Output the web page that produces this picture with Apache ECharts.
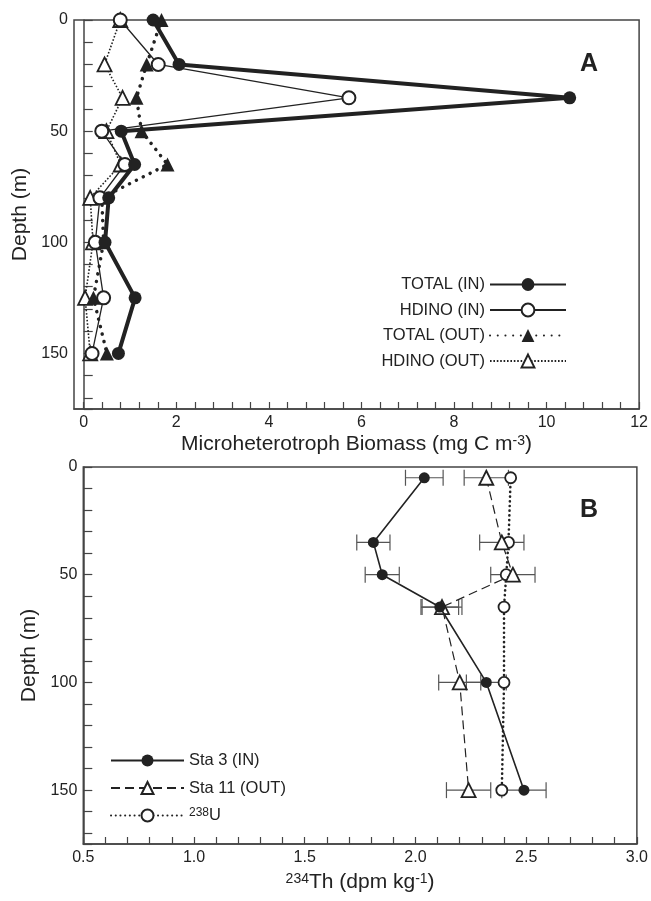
<!DOCTYPE html>
<html><head><meta charset="utf-8">
<script src="https://cdn.jsdelivr.net/npm/echarts@6/dist/echarts.min.js"></script>
<style>html,body{margin:0;padding:0;background:#fff}#c{width:651px;height:901px}</style>
</head><body><div id="c"></div>
<script>
// ---- Panel A data ----
const depthsA = [0, 20, 35, 50, 65, 80, 100, 125, 150];
const totalIn = [1.5, 2.06, 10.5, 0.81, 1.1, 0.54, 0.46, 1.11, 0.75];
const hdinoIn = [0.79, 1.61, 5.73, 0.39, 0.89, 0.35, 0.25, 0.43, 0.18];
const totalOut = [1.68, 1.36, 1.14, 1.25, 1.81, 0.39, 0.43, 0.21, 0.5];
const hdinoOut = [0.79, 0.45, 0.84, 0.49, 0.8, 0.14, 0.2, 0.03, 0.14];
const namesA = ['TOTAL (IN)', 'HDINO (IN)', 'TOTAL (OUT)', 'HDINO (OUT)'];
const xTicksA = [0,0.4,0.8,1.2,1.6,2,2.4,2.8,3.2,3.6,4,4.4,4.8,5.2,5.6,6,6.4,6.8,7.2,7.6,8,8.4,8.8,9.2,9.6,10,10.4,10.8,11.2,11.6,12];
const xLabelsA = [0, 2, 4, 6, 8, 10, 12];

// ---- Panel B data ----
const depthsB = [5, 35, 50, 65, 100, 150];
const sta3 = [2.04, 1.81, 1.85, 2.11, 2.32, 2.49];
const sta3Err = [0.085, 0.075, 0.077, 0.085, 0.09, 0.1];
const sta11 = [2.32, 2.39, 2.44, 2.12, 2.20, 2.24];
const sta11Err = [0.1, 0.1, 0.1, 0.09, 0.095, 0.1];
const u238 = [2.43, 2.42, 2.41, 2.40, 2.40, 2.39];
const namesB = ['Sta 3 (IN)', 'Sta 11 (OUT)', '{sup|238}U'];
const xLabelsB = [0.5, 1.0, 1.5, 2.0, 2.5, 3.0];
const depthLabels = [0, 50, 100, 150];

const FONT = '"Liberation Sans", Arial, Helvetica, sans-serif';
const INK = '#222';
const AXIS = '#444';

function pairs(xs, ys) { return xs.map((v, i) => [v, ys[i]]); }
function errData(xs, es, ys) { return xs.map((v, i) => [v, ys[i], es[i]]); }

function errorBarSeries(name, xs, es) {
  return {
    type: 'custom', name: name, xAxisIndex: 1, yAxisIndex: 1, z: 1, silent: true,
    data: errData(xs, es, depthsB),
    renderItem: function (params, api) {
      const x = api.value(0), y = api.value(1), e = api.value(2);
      const p1 = api.coord([x - e, y]);
      const p2 = api.coord([x + e, y]);
      const h = 8;
      const st = { stroke: '#555', lineWidth: 1.2 };
      return {
        type: 'group', children: [
          { type: 'line', shape: { x1: p1[0], y1: p1[1], x2: p2[0], y2: p2[1] }, style: st },
          { type: 'line', shape: { x1: p1[0], y1: p1[1] - h, x2: p1[0], y2: p1[1] + h }, style: st },
          { type: 'line', shape: { x1: p2[0], y1: p2[1] - h, x2: p2[0], y2: p2[1] + h }, style: st }
        ]
      };
    }
  };
}

const depthAxisCommon = {
  type: 'value', inverse: true, min: 0, max: 175, interval: 10,
  nameLocation: 'middle', name: 'Depth (m)',
  nameTextStyle: { fontFamily: FONT, fontSize: 21, color: INK },
  axisLine: { show: true, lineStyle: { color: AXIS, width: 1.5 } },
  axisTick: { show: true, inside: true, length: 9, lineStyle: { color: AXIS, width: 1.2 } },
  axisLabel: {
    fontFamily: FONT, fontSize: 16, color: INK, margin: 6,
    formatter: function (v) { return depthLabels.indexOf(v) >= 0 ? String(v) : ''; }
  },
  splitLine: { show: false }
};

const option = {
  backgroundColor: '#fff',
  animation: false,
  grid: [
    { left: 74, right: 10, top: 20, height: 389, show: true, borderColor: AXIS, borderWidth: 1.5, containLabel: false },
    { left: 83.3, right: 10, top: 467, height: 377, show: true, borderColor: AXIS, borderWidth: 1.5, containLabel: false }
  ],
  xAxis: [
    {
      gridIndex: 0, type: 'value', min: -0.21, max: 12,
      name: 'Microheterotroph Biomass (mg C m{sup|-3})', nameLocation: 'middle', nameGap: 25,
      nameTextStyle: { fontFamily: FONT, fontSize: 21, color: INK, rich: { sup: { fontFamily: FONT, fontSize: 14, color: INK, verticalAlign: 'top' } } },
      axisLine: { show: true, onZero: false, lineStyle: { color: AXIS, width: 1.5 } },
      axisTick: { show: true, inside: true, length: 7, customValues: xTicksA, lineStyle: { color: AXIS, width: 1.2 } },
      axisLabel: { fontFamily: FONT, fontSize: 16, color: INK, margin: 6, customValues: xLabelsA },
      splitLine: { show: false }
    },
    {
      gridIndex: 1, type: 'value', min: 0.5, max: 3.0, interval: 0.1,
      name: '{sup|234}Th (dpm kg{sup|-1})', nameLocation: 'middle', nameGap: 28,
      nameTextStyle: { fontFamily: FONT, fontSize: 21, color: INK, rich: { sup: { fontFamily: FONT, fontSize: 14, color: INK, verticalAlign: 'top' } } },
      axisLine: { show: true, onZero: false, lineStyle: { color: AXIS, width: 1.5 } },
      axisTick: { show: true, inside: true, length: 7, lineStyle: { color: AXIS, width: 1.2 } },
      axisLabel: {
        fontFamily: FONT, fontSize: 16, color: INK, margin: 6,
        formatter: function (v) {
          for (const t of xLabelsB) { if (Math.abs(v - t) < 1e-6) return t.toFixed(1); }
          return '';
        }
      },
      splitLine: { show: false }
    }
  ],
  yAxis: [
    Object.assign({}, depthAxisCommon, { gridIndex: 0, nameGap: 30 }),
    Object.assign({}, depthAxisCommon, { gridIndex: 1, nameGap: 40 })
  ],
  legend: [
    {
      data: namesA, orient: 'vertical', align: 'right', right: 84, top: 276, padding: 0,
      itemWidth: 76, itemHeight: 16, itemGap: 8.5,
      textStyle: { fontFamily: FONT, fontSize: 16.5, color: INK },
      selectedMode: false
    },
    {
      data: namesB, orient: 'vertical', align: 'left', left: 110, top: 752, padding: 0,
      itemWidth: 73, itemHeight: 15, itemGap: 10.5,
      textStyle: { fontFamily: FONT, fontSize: 16.5, color: INK, rich: { sup: { fontFamily: FONT, fontSize: 12, color: INK, verticalAlign: 'top' } } },
      selectedMode: false
    }
  ],
  graphic: [
    { type: 'text', left: 580, top: 52, style: { text: 'A', font: 'bold 25px ' + FONT, fill: INK } },
    { type: 'text', left: 580, top: 498, style: { text: 'B', font: 'bold 25px ' + FONT, fill: INK } }
  ],
  series: [
    {
      name: namesA[3], type: 'line', xAxisIndex: 0, yAxisIndex: 0, clip: false, z: 3,
      data: pairs(hdinoOut, depthsA), symbol: 'triangle', symbolSize: 14,
      lineStyle: { color: INK, width: 1.6, type: [1.6, 1.8] },
      itemStyle: { color: '#fff', borderColor: INK, borderWidth: 1.8 }
    },
    {
      name: namesA[2], type: 'line', xAxisIndex: 0, yAxisIndex: 0, clip: false, z: 4,
      data: pairs(totalOut, depthsA), symbol: 'triangle', symbolSize: 14,
      lineStyle: { color: INK, width: 3.5, type: [0.1, 7.6], cap: 'round' },
      itemStyle: { color: INK, borderColor: INK, borderWidth: 0 }
    },
    {
      name: namesA[1], type: 'line', xAxisIndex: 0, yAxisIndex: 0, clip: false, z: 5,
      data: pairs(hdinoIn, depthsA), symbol: 'circle', symbolSize: 13,
      lineStyle: { color: INK, width: 1.3, type: 'solid' },
      itemStyle: { color: '#fff', borderColor: INK, borderWidth: 2 }
    },
    {
      name: namesA[0], type: 'line', xAxisIndex: 0, yAxisIndex: 0, clip: false, z: 6,
      data: pairs(totalIn, depthsA), symbol: 'circle', symbolSize: 13,
      lineStyle: { color: INK, width: 4, type: 'solid' },
      itemStyle: { color: INK, borderColor: INK, borderWidth: 0 }
    },
    errorBarSeries('errSta3', sta3, sta3Err),
    errorBarSeries('errSta11', sta11, sta11Err),
    {
      name: namesB[2], type: 'line', xAxisIndex: 1, yAxisIndex: 1, clip: false, z: 3,
      data: pairs(u238, depthsB), symbol: 'circle', symbolSize: 11,
      lineStyle: { color: INK, width: 2.6, type: [0.1, 4.6], cap: 'round' },
      itemStyle: { color: '#fff', borderColor: INK, borderWidth: 1.8 }
    },
    {
      name: namesB[1], type: 'line', xAxisIndex: 1, yAxisIndex: 1, clip: false, z: 4,
      data: pairs(sta11, depthsB), symbol: 'triangle', symbolSize: 14,
      lineStyle: { color: INK, width: 1.2, type: [9, 5] },
      itemStyle: { color: '#fff', borderColor: INK, borderWidth: 1.8 }
    },
    {
      name: namesB[0], type: 'line', xAxisIndex: 1, yAxisIndex: 1, clip: false, z: 5,
      data: pairs(sta3, depthsB), symbol: 'circle', symbolSize: 11,
      lineStyle: { color: INK, width: 1.6, type: 'solid' },
      itemStyle: { color: INK, borderColor: INK, borderWidth: 0 }
    }
  ]
};

const chart = echarts.init(document.getElementById('c'), null, { renderer: 'canvas' });
chart.setOption(option);
</script>
</body></html>
